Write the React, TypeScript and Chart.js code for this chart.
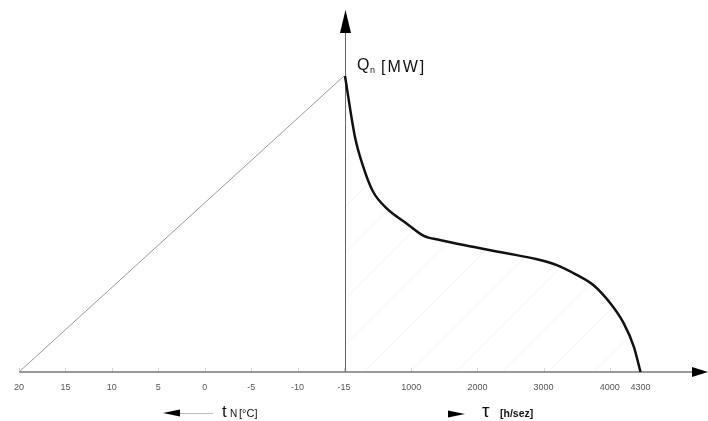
import React, { useEffect, useRef } from "react";
import { Chart, registerables, LinearScale } from "chart.js";

// Temperature axis (°C), drawn right-to-left on the left half
const tempTicks = [20, 15, 10, 5, 0, -5, -10, -15];
// Duration axis (h/season) on the right half
const hourTicks = [1000, 2000, 3000, 4000, 4300];

// Straight line Q(t): zero load at +20 °C, peak load at -15 °C (Q in % of peak)
const lineTemps = [20, -15];
const lineLoads = [0, 100];

// Load duration curve (hours vs. % of peak load)
const hours = [0, 150, 275, 425, 630, 930, 1190, 1430, 1930, 2440, 2900, 3200, 3500, 3750, 4005, 4135, 4235, 4300];
const loads = [100, 79.5, 69.4, 60.9, 55.3, 50.2, 46.0, 44.6, 42.3, 40.1, 38.1, 36.1, 32.8, 29.4, 23.2, 16.5, 8.5, 0];

const FONT = "'Liberation Sans', Arial, sans-serif";

// The drawing is not to scale beyond 4000 h: the last segment is stretched.
const STRETCH_FROM = 4000;
const STRETCH_FACTOR = 1.546;
const warp = (v: number) => (v > STRETCH_FROM ? STRETCH_FROM + (v - STRETCH_FROM) * STRETCH_FACTOR : v);
const unwarp = (v: number) => (v > STRETCH_FROM ? STRETCH_FROM + (v - STRETCH_FROM) / STRETCH_FACTOR : v);

class WarpScale extends (LinearScale as any) {
  static id = "warp";
  static defaults = (LinearScale as any).defaults;
  getPixelForValue(value: any) {
    return super.getPixelForValue(value === null || value === undefined ? value : warp(value));
  }
  getValueForPixel(pixel: number) {
    return unwarp(super.getValueForPixel(pixel));
  }
}

Chart.register(...registerables, WarpScale as any);

function makeHatch(): CanvasPattern | string {
  const n = 46;
  const c = document.createElement("canvas");
  c.width = n;
  c.height = n;
  const g = c.getContext("2d");
  if (!g) return "rgba(0,0,0,0)";
  g.strokeStyle = "rgba(0,0,0,0.045)";
  g.lineWidth = 1;
  g.beginPath();
  g.moveTo(0, n);
  g.lineTo(n, 0);
  g.stroke();
  const p = g.createPattern(c, "repeat");
  return p || "rgba(0,0,0,0)";
}

const decorPlugin = {
  id: "decor",
  beforeDatasetsDraw(chart: any) {
    const { ctx, chartArea, scales } = chart;
    const xT = scales.xT, xH = scales.xH, y = scales.y;
    const y0 = y.getPixelForValue(0);
    const x0 = xH.getPixelForValue(0);
    const xLeft = xT.getPixelForValue(tempTicks[0]);
    ctx.save();
    // faint tick marks
    ctx.strokeStyle = "#d4d4d4";
    ctx.lineWidth = 1;
    ctx.beginPath();
    tempTicks.forEach((v) => {
      const px = Math.round(xT.getPixelForValue(v)) + 0.5;
      ctx.moveTo(px, y0 - 4);
      ctx.lineTo(px, y0);
    });
    hourTicks.slice(0, 4).forEach((v) => {
      const px = Math.round(xH.getPixelForValue(v)) + 0.5;
      ctx.moveTo(px, y0 - 4);
      ctx.lineTo(px, y0);
    });
    ctx.stroke();
    // horizontal axis
    ctx.strokeStyle = "#777";
    ctx.lineWidth = 1.5;
    ctx.beginPath();
    ctx.moveTo(xLeft, y0);
    ctx.lineTo(chartArea.right - 14, y0);
    ctx.stroke();
    // vertical axis
    ctx.strokeStyle = "#666";
    ctx.lineWidth = 1;
    ctx.beginPath();
    ctx.moveTo(Math.round(x0) + 0.5, y0);
    ctx.lineTo(Math.round(x0) + 0.5, chartArea.top + 20);
    ctx.stroke();
    // arrow heads
    ctx.fillStyle = "#000";
    ctx.beginPath();
    ctx.moveTo(chartArea.right, y0);
    ctx.lineTo(chartArea.right - 16, y0 - 5);
    ctx.lineTo(chartArea.right - 16, y0 + 5);
    ctx.closePath();
    ctx.fill();
    ctx.beginPath();
    ctx.moveTo(x0 + 0.5, chartArea.top);
    ctx.lineTo(x0 - 5, chartArea.top + 23);
    ctx.lineTo(x0 + 6, chartArea.top + 23);
    ctx.closePath();
    ctx.fill();
    ctx.restore();
  },
  afterDraw(chart: any) {
    const { ctx, scales } = chart;
    const xH = scales.xH, y = scales.y;
    const x0 = xH.getPixelForValue(0);
    const yTop = y.getPixelForValue(100);
    ctx.save();
    ctx.fillStyle = "#111";
    ctx.textBaseline = "alphabetic";
    ctx.textAlign = "left";
    // Q_n [MW]
    ctx.font = `16px ${FONT}`;
    ctx.fillText("Q", x0 + 12, yTop - 6);
    ctx.font = `9px ${FONT}`;
    ctx.fillText("n", x0 + 25, yTop - 3);
    ctx.font = `16px ${FONT}`;
    try { (ctx as any).letterSpacing = "2px"; } catch (e) {}
    ctx.fillText("[MW]", x0 + 36, yTop - 4);
    try { (ctx as any).letterSpacing = "0px"; } catch (e) {}

    const yl = 413;
    // left arrow + t_N [°C]
    ctx.strokeStyle = "#bbb";
    ctx.lineWidth = 1;
    ctx.beginPath();
    ctx.moveTo(178, yl + 0.5);
    ctx.lineTo(213, yl + 0.5);
    ctx.stroke();
    ctx.fillStyle = "#000";
    ctx.beginPath();
    ctx.moveTo(163, yl);
    ctx.lineTo(180, yl - 3.5);
    ctx.lineTo(180, yl + 3.5);
    ctx.closePath();
    ctx.fill();
    ctx.fillStyle = "#111";
    ctx.font = `17px ${FONT}`;
    ctx.fillText("t", 222, 417);
    ctx.font = `10px ${FONT}`;
    ctx.fillText("N", 230, 417);
    ctx.font = `11px ${FONT}`;
    ctx.fillText("[°C]", 239, 417);

    // right arrow + τ [h/sez]
    ctx.fillStyle = "#000";
    ctx.beginPath();
    ctx.moveTo(465, yl + 1);
    ctx.lineTo(448, yl - 2.5);
    ctx.lineTo(448, yl + 4.5);
    ctx.closePath();
    ctx.fill();
    ctx.fillStyle = "#111";
    ctx.font = `19px ${FONT}`;
    ctx.fillText("τ", 482, 417);
    ctx.font = `bold 10.5px ${FONT}`;
    ctx.fillText("[h/sez]", 500, 417);
    ctx.restore();
  },
};

export default function App() {
  const ref = useRef<HTMLCanvasElement | null>(null);
  useEffect(() => {
    if (!ref.current) return;
    const tickFont = { size: 9, family: FONT };
    const tickOpts = {
      autoSkip: false,
      maxRotation: 0,
      padding: 10,
      color: "#555",
      font: tickFont,
      callback: (v: any) => String(v),
    };
    const chart = new Chart(ref.current, {
      type: "line",
      data: {
        datasets: [
          {
            label: "Q(t)",
            data: lineTemps.map((t, i) => ({ x: t, y: lineLoads[i] })),
            xAxisID: "xT",
            yAxisID: "y",
            borderColor: "#9a9a9a",
            borderWidth: 1,
            pointRadius: 0,
            fill: false,
          },
          {
            label: "Q(τ)",
            data: hours.map((h, i) => ({ x: h, y: loads[i] })),
            xAxisID: "xH",
            yAxisID: "y",
            borderColor: "#111",
            borderWidth: 2.5,
            pointRadius: 0,
            cubicInterpolationMode: "monotone",
            fill: "origin",
            backgroundColor: makeHatch() as any,
          },
        ],
      },
      options: {
        animation: false,
        responsive: false,
        layout: { padding: { left: 19, right: 0, top: 10, bottom: 49 } },
        plugins: { legend: { display: false }, tooltip: { enabled: false }, title: { display: false } },
        scales: {
          xT: {
            type: "linear",
            reverse: true,
            min: -54.2,
            max: 20,
            position: { y: 0 } as any,
            grid: { display: false, drawTicks: false },
            border: { display: false },
            afterBuildTicks: (s: any) => {
              s.ticks = tempTicks.map((v) => ({ value: v }));
            },
            ticks: tickOpts,
          },
          xH: {
            type: "warp",
            min: -4924,
            max: 5483,
            position: { y: 0 } as any,
            grid: { display: false, drawTicks: false },
            border: { display: false },
            afterBuildTicks: (s: any) => {
              s.ticks = hourTicks.map((v) => ({ value: v }));
            },
            ticks: tickOpts,
          },
          y: {
            type: "linear",
            min: 0,
            max: 122.3,
            display: false,
          },
        },
      } as any,
      plugins: [decorPlugin],
    });
    return () => chart.destroy();
  }, []);
  return (
    <div style={{ position: "fixed", left: 0, top: 0, width: 708, height: 421, background: "#fff" }}>
      <canvas ref={ref} width={708} height={421} style={{ width: 708, height: 421, display: "block" }} />
    </div>
  );
}
